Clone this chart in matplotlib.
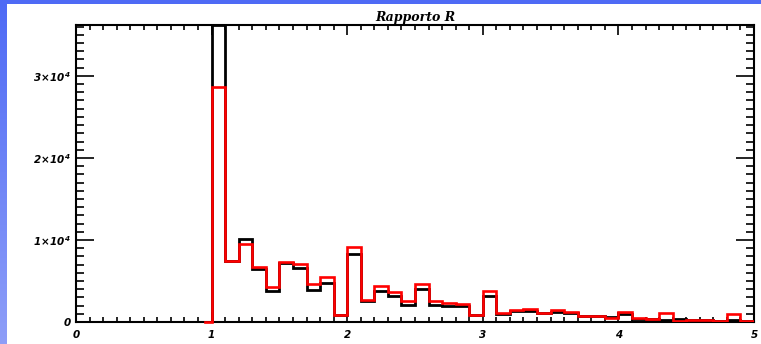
import numpy as np
import matplotlib
matplotlib.use("Agg")
import matplotlib.pyplot as plt
from matplotlib.ticker import MultipleLocator, FixedLocator, FuncFormatter

plt.rcParams["mathtext.default"] = "bfit"

# Histogram of the ratio R, bins of width 0.1 from 1.0 to 5.0
bin_start = 1.0
bin_stop = 5.0
n_bins = 40

counts_all = [36200, 7400, 10130, 6400, 3820, 7200, 6550, 3900, 4800, 900,
              8300, 2600, 3820, 3170, 2040, 3990, 2070, 1950, 1950, 900,
              3170, 1000, 1340, 1300, 1130, 1260, 1100, 730, 730, 550,
              975, 400, 330, 200, 330, 244, 200, 150, 240, 150]
counts_sel = [28600, 7480, 9500, 6670, 4300, 7320, 7070, 4600, 5450, 800,
              9190, 2680, 4390, 3700, 2560, 4600, 2560, 2280, 2150, 800,
              3820, 1060, 1460, 1630, 1060, 1460, 1220, 730, 730, 450,
              1260, 530, 330, 1140, 160, 244, 200, 120, 940, 120]

x_limits = (0, 5)
y_limits = (0, 36200)
y_major = [0, 10000, 20000, 30000]
y_labels = ["0", r"$1\!\times\!10^4$", r"$2\!\times\!10^4$", r"$3\!\times\!10^4$"]
title_text = "Rapporto R"

W, H = 761, 344
fig = plt.figure(figsize=(W / 100, H / 100), dpi=100)
fig.patch.set_facecolor("white")

# blue frame along the left and top edges
bg = fig.add_axes([0, 0, 1, 1], zorder=-10)
bg.set_axis_off()
grad = np.linspace(0, 1, 200)[:, None]
top_col = np.array([0x4e, 0x6a, 0xf5]) / 255
bot_col = np.array([0x8e, 0x9e, 0xf8]) / 255
img = top_col[None, None, :] * (1 - grad[..., None]) + bot_col[None, None, :] * grad[..., None]
bg.imshow(img, extent=[0, 7 / W, 0, 1], aspect="auto", transform=bg.transAxes)
bg.add_patch(plt.Rectangle((0, 1 - 4 / H), 1, 4 / H, transform=bg.transAxes,
                           color=top_col, lw=0))
bg.set_xlim(0, 1)
bg.set_ylim(0, 1)

ax = fig.add_axes([76 / W, 22 / H, (754 - 76) / W, (322 - 25) / H])
edges = np.linspace(bin_start, bin_stop, n_bins + 1)

ax.stairs(counts_all, edges, color="black", lw=2.0, zorder=3)
ax.stairs(counts_sel, edges, color="red", lw=1.9, zorder=4)
# red trace runs in along the baseline from the bin centre before the first bin
ax.plot([bin_start - 0.05, bin_start], [0, 0], color="red", lw=1.9, zorder=4,
        clip_on=False)

ax.set_xlim(*x_limits)
ax.set_ylim(*y_limits)

ax.xaxis.set_major_locator(MultipleLocator(1))
ax.xaxis.set_minor_locator(MultipleLocator(0.1))
ax.yaxis.set_major_locator(FixedLocator(y_major))
ax.yaxis.set_minor_locator(MultipleLocator(1000))
ax.yaxis.set_major_formatter(FuncFormatter(lambda v, p: y_labels[y_major.index(v)] if v in y_major else ""))
ax.xaxis.set_major_formatter(FuncFormatter(lambda v, p: f"{int(round(v))}"))

ax.tick_params(axis="both", which="both", direction="in", top=True, right=True,
               color="black", width=1.2)
ax.tick_params(axis="x", which="major", length=7, pad=6)
ax.tick_params(axis="x", which="minor", length=3.5)
ax.tick_params(axis="y", which="major", length=13, pad=4)
ax.tick_params(axis="y", which="minor", length=6)

for lab in ax.get_xticklabels() + ax.get_yticklabels():
    lab.set_fontsize(7.5)
    lab.set_fontstyle("italic")
    lab.set_fontweight("bold")

for sp in ax.spines.values():
    sp.set_linewidth(1.5)

ax.set_title(title_text, fontsize=9, family="DejaVu Serif", style="italic",
             fontweight="bold", pad=3)

fig.savefig("out.png", dpi=100)
